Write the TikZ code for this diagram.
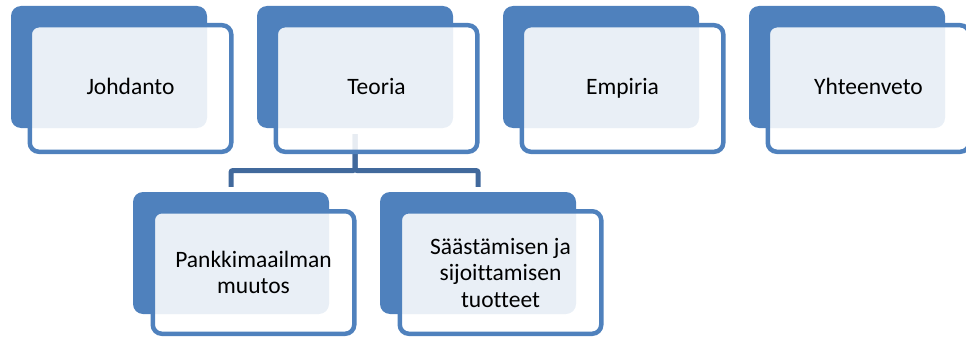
\documentclass[tikz,border=0pt]{standalone}
\usepackage{fontspec}
\setmainfont{Carlito}[Ligatures={NoCommon}]
\definecolor{sablue}{HTML}{4F81BD}
\definecolor{saconn}{HTML}{41699C}
\tikzset{
  backbox/.style={fill=sablue, draw=none, rounded corners=10pt, minimum width=196pt, minimum height=122pt, inner sep=0pt},
  frontbox/.style={draw=sablue, line width=4.5pt, fill=white, fill opacity=0.88, text opacity=1, rounded corners=9pt,
     minimum width=201.5pt, inner sep=0pt, align=center, font=\fontsize{23.5}{26.5}\selectfont},
  conn/.style={draw=saconn, line width=5pt, rounded corners=2pt}
}
\newcommand{\eqh}{\vphantom{Jhp}}
\begin{document}
\begin{tikzpicture}[x=1pt,y=-1pt]
\useasboundingbox (0,0) rectangle (966,337);
\clip (0,0) rectangle (966,337);
% back boxes
\node[backbox] (b1) at (109,67) {};
\node[backbox] (b2) at (355,67) {};
\node[backbox] (b3) at (601,67) {};
\node[backbox] (b4) at (847,67) {};
\node[backbox] (b5) at (231,253) {};
\node[backbox] (b6) at (478,253) {};
% connector
\coordinate (ts) at (355,134);
\draw[conn] (ts) -- ++(0,36.5) -| ([yshift=5pt]b5.north);
\draw[conn] (ts) -- ++(0,36.5) -| ([yshift=5pt]b6.north);
% front boxes
\node[frontbox, minimum height=126.5pt] (f1) at (130.5,88.5) {\eqh Johdanto};
\node[frontbox, minimum height=126.5pt] (f2) at (376.5,88.5) {\eqh Teoria};
\node[frontbox, minimum height=126.5pt] (f3) at (622.5,88.5) {\eqh Empiria};
\node[frontbox, minimum height=126.5pt] (f4) at (868.5,88.5) {\eqh Yhteenveto};
\node[frontbox, minimum height=122.5pt] (f5) at (253.5,272.5) {Pankkimaailman\\muutos};
\node[frontbox, minimum height=122.5pt] (f6) at (500.5,272.5) {Säästämisen ja\\sijoittamisen\\tuotteet};
\end{tikzpicture}
\end{document}
